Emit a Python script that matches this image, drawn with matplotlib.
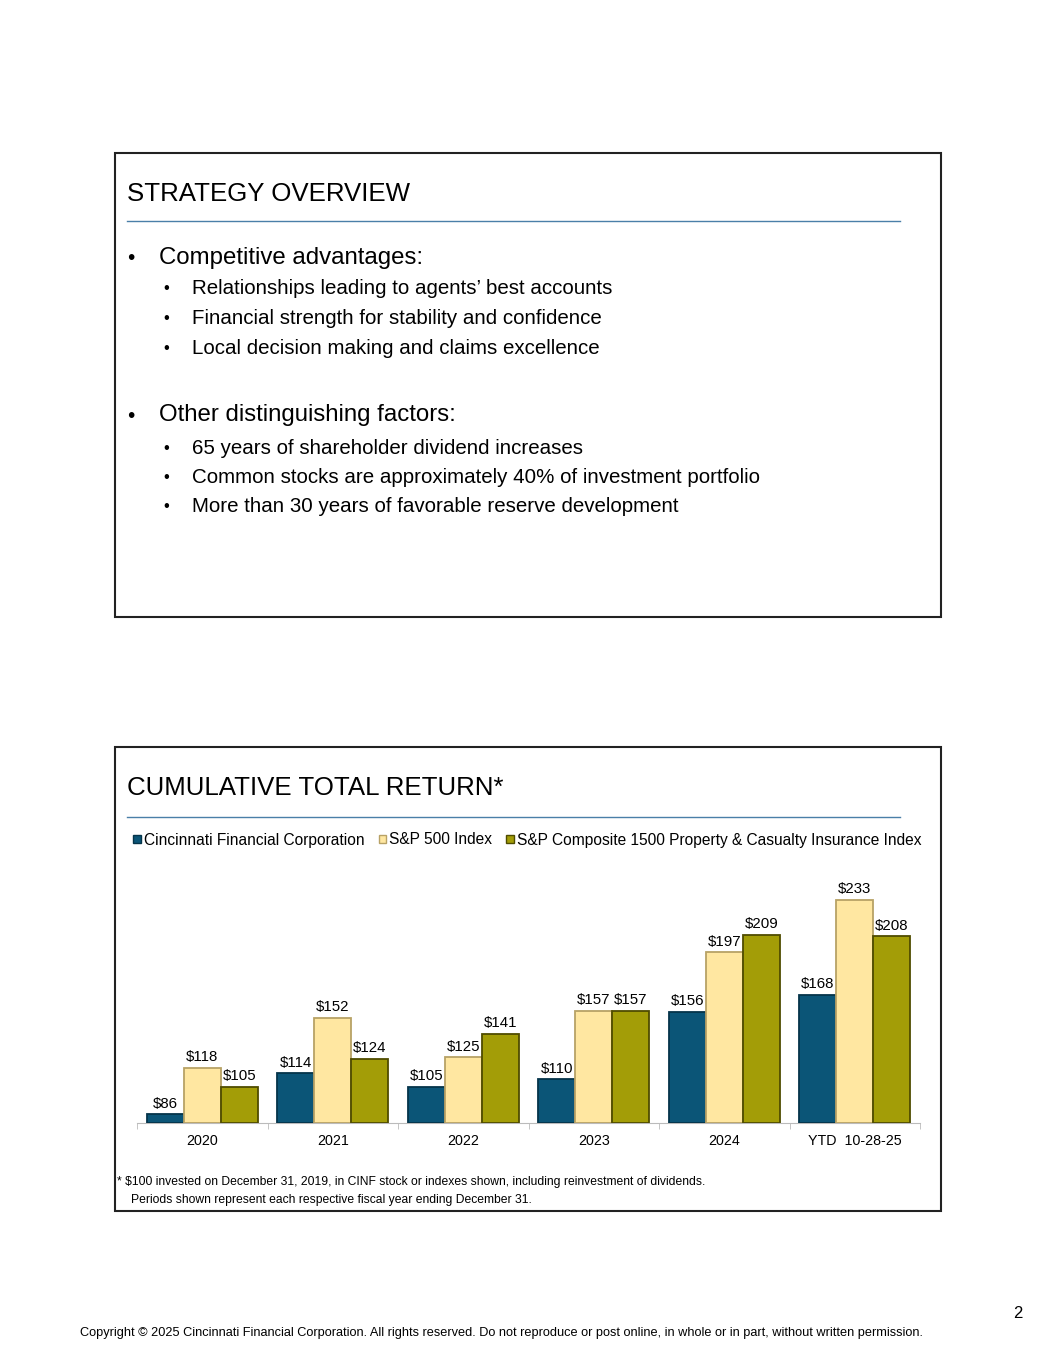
import matplotlib
matplotlib.use('Agg')
import matplotlib.pyplot as plt
import numpy as np
from matplotlib.patches import Rectangle, Patch

plt.rcParams['font.family'] = ['Liberation Sans', 'DejaVu Sans']

# data
years = ['2020', '2021', '2022', '2023', '2024', 'YTD  10-28-25']
cinf = [86, 114, 105, 110, 156, 168]
sp500 = [118, 152, 125, 157, 197, 233]
pc_index = [105, 124, 141, 157, 209, 208]
series_names = ['Cincinnati Financial Corporation', 'S&P 500 Index',
                'S&P Composite 1500 Property & Casualty Insurance Index']

colors = ['#0B5577', '#FFE7A1', '#A39D07']
edges = ['#05344A', '#B8A266', '#4F4C00']

fig = plt.figure(figsize=(10.55, 13.65), dpi=100)

# page layer in pixel coords
bg = fig.add_axes([0, 0, 1, 1])
bg.set_xlim(0, 1055)
bg.set_ylim(1365, 0)
bg.axis('off')

# top box
bg.add_patch(Rectangle((115, 153), 826, 464, fill=False, ec='#222222', lw=1.5))
bg.text(127, 194, 'STRATEGY OVERVIEW', fontsize=18.6, va='center', ha='left')
bg.plot([127, 900], [221, 221], color='#4A7FA8', lw=1)

bg.text(127, 259, '•', fontsize=15, va='center')
bg.text(159, 258, 'Competitive advantages:', fontsize=17.3, va='center')
subs1 = ['Relationships leading to agents’ best accounts',
         'Financial strength for stability and confidence',
         'Local decision making and claims excellence']
for i, s in enumerate(subs1):
    y = 289 + i * 30
    bg.text(163, y, '•', fontsize=12, va='center')
    bg.text(192, y, s, fontsize=14.8, va='center')

bg.text(127, 416, '•', fontsize=15, va='center')
bg.text(159, 415, 'Other distinguishing factors:', fontsize=17.3, va='center')
subs2 = ['65 years of shareholder dividend increases',
         'Common stocks are approximately 40% of investment portfolio',
         'More than 30 years of favorable reserve development']
for i, s in enumerate(subs2):
    y = 448 + i * 29.5
    bg.text(163, y, '•', fontsize=12, va='center')
    bg.text(192, y, s, fontsize=14.8, va='center')

# bottom box
bg.add_patch(Rectangle((115, 747), 826, 464, fill=False, ec='#222222', lw=1.5))
bg.text(127, 788, 'CUMULATIVE TOTAL RETURN*', fontsize=18.6, va='center', ha='left')
bg.plot([127, 900], [817, 817], color='#4A7FA8', lw=1)

bg.text(117, 1182, '* $100 invested on December 31, 2019, in CINF stock or indexes shown, including reinvestment of dividends.',
        fontsize=8.7, va='center')
bg.text(131, 1200, 'Periods shown represent each respective fiscal year ending December 31.',
        fontsize=8.7, va='center')

bg.text(501, 1333, 'Copyright © 2025 Cincinnati Financial Corporation. All rights reserved. Do not reproduce or post online, in whole or in part, without written permission.',
        fontsize=9.2, va='center', ha='center')
bg.text(1018, 1314, '2', fontsize=12, va='center', ha='center')

# chart
ax = fig.add_axes([137 / 1055, 1 - 1123 / 1365, 783 / 1055, 248 / 1365])
x = np.arange(len(years))
w = 0.284
for k, vals in enumerate([cinf, sp500, pc_index]):
    pos = x + (k - 1) * w
    ax.bar(pos, np.array(vals) - 80, bottom=80, width=w, color=colors[k],
           edgecolor=edges[k], linewidth=1.3, zorder=3)
    for px, v in zip(pos, vals):
        ax.text(px, v + 2.5, '$%d' % v, ha='center', va='bottom', fontsize=10.8)

ax.set_xlim(-0.5, len(years) - 0.5)
ax.set_ylim(80, 250)
for s in ['top', 'right', 'left']:
    ax.spines[s].set_visible(False)
ax.spines['bottom'].set_color('#BBBBBB')
ax.set_yticks([])
ax.set_xticks(x)
ax.set_xticklabels(years, fontsize=10.3)
ax.tick_params(axis='x', length=0, pad=8)
ax.set_xticks(np.arange(len(years) + 1) - 0.5, minor=True)
ax.tick_params(axis='x', which='minor', length=4, color='#BBBBBB')
ax.patch.set_alpha(0)

handles = [Patch(facecolor=colors[k], edgecolor=edges[k], lw=1) for k in range(3)]
fig.legend(handles, series_names, loc='center left',
           bbox_to_anchor=(133 / 1055, 1 - 840 / 1365), ncol=3, frameon=False,
           fontsize=11.2, handlelength=0.5, handleheight=0.5, handletextpad=0.2,
           columnspacing=0.9, borderaxespad=0, borderpad=0)

plt.savefig('out.png', dpi=100)
